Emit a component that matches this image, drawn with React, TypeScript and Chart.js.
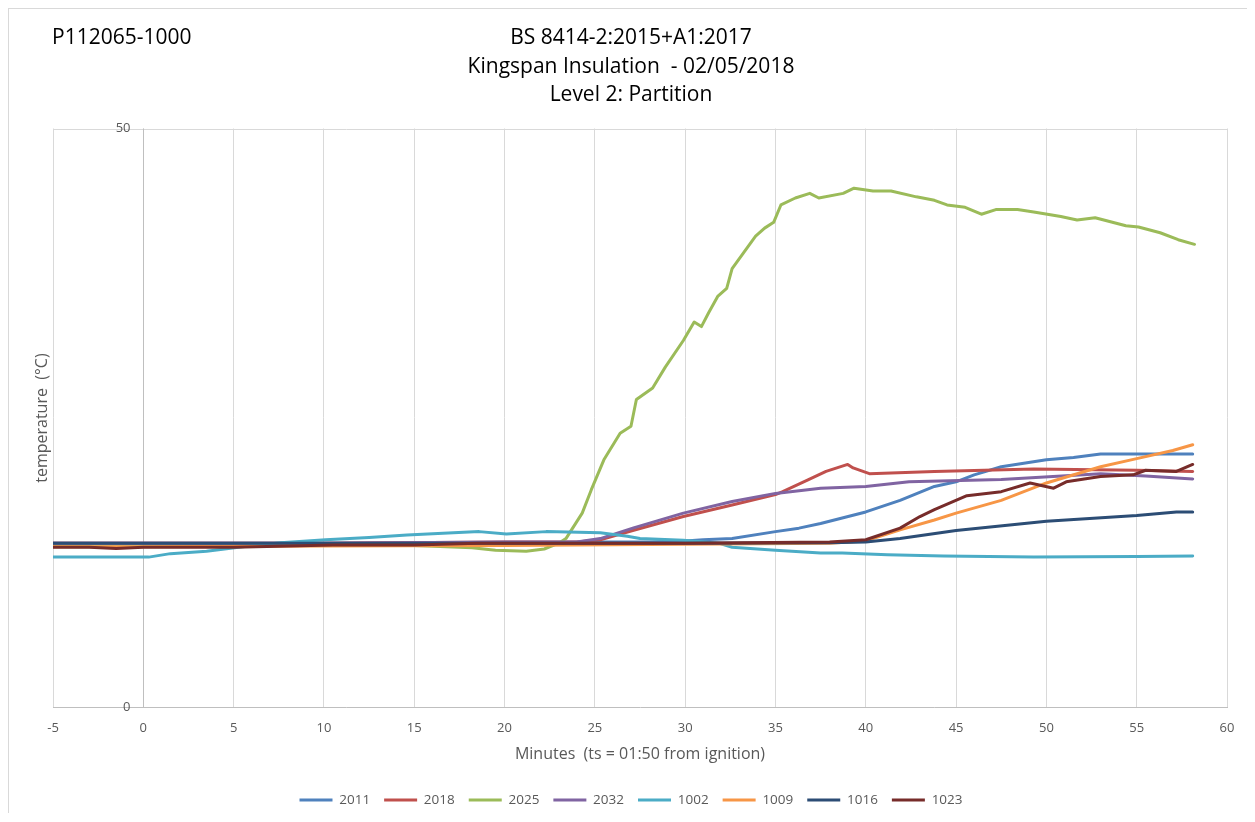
import React, { useEffect, useRef } from 'react';
import { Chart, registerables } from 'chart.js';

Chart.register(...registerables);

const FONT = '"Open Sans", "Noto Sans", sans-serif';

const seriesNames = ['2011', '2018', '2025', '2032', '1002', '1009', '1016', '1023'];
const seriesColors = ['#4F81BD', '#C0504D', '#9BBB59', '#8064A2', '#4BACC6', '#F79646', '#2C4D75', '#772C2A'];

const t2011 = [-5, 0, 5, 10, 15, 20, 25, 28, 30, 31, 32.6, 35, 36.3, 37.5, 40, 41.9, 43.8, 45, 46, 47.5, 50, 51.5, 53, 55, 58.1];
const v2011 = [14.2, 14.2, 14.2, 14.2, 14.2, 14.2, 14.3, 14.3, 14.4, 14.5, 14.6, 15.2, 15.5, 15.9, 16.9, 17.9, 19.1, 19.5, 20.1, 20.8, 21.4, 21.6, 21.9, 21.9, 21.9];

const t2018 = [-5, 0, 10, 20, 24, 25.3, 27.1, 29.9, 32.6, 35, 35.4, 36.8, 37.8, 39.0, 39.3, 40.2, 43.8, 49.3, 55, 58.1];
const v2018 = [14.2, 14.2, 14.2, 14.3, 14.3, 14.5, 15.3, 16.5, 17.5, 18.4, 18.65, 19.66, 20.4, 21.0, 20.7, 20.2, 20.4, 20.6, 20.5, 20.4];

const t2025 = [-5, 0, 5, 10, 15, 18.2, 19.5, 21.2, 22.2, 23.0, 23.4, 24.3, 24.8, 25.5, 26.4, 27.0, 27.3, 28.2, 28.9, 29.9, 30.5, 30.9, 31.3, 31.8, 32.3, 32.6, 33.2, 33.9, 34.4, 34.9, 35.3, 36.1, 36.9, 37.4, 38.75, 39.35, 40.4, 41.4, 42.8, 43.8, 44.5, 45.5, 46.4, 47.2, 48.4, 49.3, 50.8, 51.7, 52.7, 54.4, 55.1, 56.3, 57.3, 58.2];
const v2025 = [14.1, 14.1, 14.1, 14.0, 14.0, 13.8, 13.6, 13.5, 13.7, 14.2, 14.6, 16.8, 18.8, 21.4, 23.7, 24.3, 26.6, 27.6, 29.4, 31.7, 33.3, 32.9, 34.1, 35.5, 36.2, 37.9, 39.2, 40.7, 41.4, 41.9, 43.4, 44.0, 44.4, 44.0, 44.4, 44.85, 44.6, 44.6, 44.1, 43.8, 43.4, 43.2, 42.6, 43.0, 43.0, 42.8, 42.4, 42.1, 42.3, 41.6, 41.5, 41.0, 40.4, 40.0];

const t2032 = [-5, 10, 20, 24, 25.3, 27.1, 29.9, 32.6, 35, 37.5, 40, 42.4, 47.5, 53, 55.5, 58.1];
const v2032 = [14.2, 14.2, 14.3, 14.3, 14.6, 15.5, 16.8, 17.8, 18.5, 18.95, 19.1, 19.5, 19.7, 20.2, 20.0, 19.75];

const t1002 = [-5, 0.3, 1.5, 2.5, 3.5, 5.5, 7.6, 10.1, 12.5, 14.6, 18.6, 20.1, 22.3, 25.3, 26.8, 27.5, 29.9, 31.9, 32.6, 35, 37.5, 38.7, 41.2, 44.3, 49.3, 55, 58.1];
const v1002 = [13.0, 13.0, 13.3, 13.4, 13.5, 13.9, 14.25, 14.5, 14.7, 14.9, 15.2, 15.0, 15.2, 15.1, 14.8, 14.6, 14.45, 14.2, 13.85, 13.6, 13.35, 13.35, 13.2, 13.1, 13.0, 13.05, 13.1];

const t1009 = [-5, 0, 10, 20, 30, 38, 40, 41.9, 43.8, 45, 47.5, 50, 53, 55, 57, 58.1];
const v1009 = [13.9, 13.9, 13.95, 14.0, 14.1, 14.2, 14.4, 15.35, 16.2, 16.8, 17.9, 19.4, 20.8, 21.5, 22.2, 22.7];

const t1016 = [-5, 0, 20, 30, 38, 40, 41.9, 45, 50, 55, 57.2, 58.1];
const v1016 = [14.2, 14.2, 14.2, 14.2, 14.25, 14.3, 14.6, 15.3, 16.1, 16.6, 16.9, 16.9];

const t1023 = [-5, -3, -1.5, 0, 5, 10.5, 15, 18.5, 25, 30, 38, 40, 41.9, 43.0, 43.8, 45.6, 47.5, 49.1, 50.4, 51.1, 53, 54.8, 55.5, 57.2, 58.1];
const v1023 = [13.85, 13.85, 13.75, 13.85, 13.85, 14.05, 14.05, 14.2, 14.2, 14.2, 14.3, 14.5, 15.5, 16.5, 17.1, 18.3, 18.65, 19.4, 18.95, 19.5, 19.95, 20.1, 20.5, 20.4, 21.0];

const seriesTimes = [t2011, t2018, t2025, t2032, t1002, t1009, t1016, t1023];
const seriesValues = [v2011, v2018, v2025, v2032, v1002, v1009, v1016, v1023];

const xMin = -5;
const xMax = 60;
const xStep = 5;
const yMin = 0;
const yMax = 50;
const yTickLabels = [0, 50];

const projectId = 'P112065-1000';
const titleLines = ['BS 8414-2:2015+A1:2017', 'Kingspan Insulation  - 02/05/2018', 'Level 2: Partition'];
const xTitle = 'Minutes  (ts = 01:50 from ignition)';
const yTitle = 'temperature  (°C)';

const decorPlugin = {
  id: 'decor',
  beforeDatasetsDraw(chart: any) {
    const { ctx, chartArea: a, scales } = chart;
    const x = scales.x;
    const y = scales.y;
    ctx.save();
    ctx.strokeStyle = '#d9d9d9';
    ctx.lineWidth = 1;
    ctx.beginPath();
    ctx.moveTo(a.left, Math.round(a.top) + 0.5);
    ctx.lineTo(a.right, Math.round(a.top) + 0.5);
    ctx.stroke();
    const x0 = Math.round(x.getPixelForValue(0)) + 0.5;
    ctx.strokeStyle = '#bfbfbf';
    ctx.beginPath();
    ctx.moveTo(x0, a.top);
    ctx.lineTo(x0, a.bottom);
    ctx.stroke();
    ctx.fillStyle = '#595959';
    ctx.font = `13px ${FONT}`;
    ctx.textAlign = 'right';
    ctx.textBaseline = 'middle';
    yTickLabels.forEach((v) => ctx.fillText(String(v), x0 - 13, y.getPixelForValue(v)));
    ctx.restore();
  },
  afterDraw(chart: any) {
    const { ctx } = chart;
    ctx.save();
    ctx.fillStyle = '#000000';
    ctx.font = `21px ${FONT}`;
    ctx.textBaseline = 'middle';
    const ys = [29.5, 58.5, 86.5];
    ctx.textAlign = 'left';
    ctx.fillText(projectId, 43, ys[0]);
    ctx.textAlign = 'center';
    const cx = chart.width / 2;
    titleLines.forEach((t, i) => ctx.fillText(t, cx, ys[i]));
    ctx.restore();
  },
};

export default function App() {
  const ref = useRef<HTMLCanvasElement | null>(null);

  useEffect(() => {
    if (!ref.current) return;
    const datasets = seriesNames.map((name, i) => ({
      label: name,
      data: seriesTimes[i].map((t, j) => ({ x: t, y: seriesValues[i][j] })),
      borderColor: seriesColors[i],
      backgroundColor: seriesColors[i],
      borderWidth: 3,
      pointRadius: 0,
      tension: 0,
      borderJoinStyle: 'round' as const,
      borderCapStyle: 'round' as const,
      order: -i,
      yAxisID: 'y',
    }));

    const chart = new Chart(ref.current, {
      type: 'line',
      data: { datasets },
      options: {
        animation: false,
        responsive: false,
        maintainAspectRatio: false,
        layout: { padding: { top: 119.5, left: 0, right: 0, bottom: 4.25 } },
        font: { family: FONT },
        scales: {
          x: {
            type: 'linear',
            min: xMin,
            max: xMax,
            ticks: {
              stepSize: xStep,
              color: '#595959',
              font: { family: FONT, size: 13 },
              padding: 13,
              autoSkip: false,
              maxRotation: 0,
            },
            grid: { color: '#d9d9d9', drawTicks: false, lineWidth: 1 },
            border: { display: true, color: '#bfbfbf', width: 1 },
            title: {
              display: true,
              text: xTitle,
              color: '#595959',
              font: { family: FONT, size: 16 },
              padding: { top: -4.9, bottom: 15.65 },
            },
          },
          y: {
            type: 'linear',
            position: 'left',
            min: yMin,
            max: yMax,
            ticks: { display: false },
            grid: { display: false },
            border: { display: false },
            title: {
              display: true,
              text: yTitle,
              color: '#595959',
              font: { family: FONT, size: 16 },
              padding: { top: 24, bottom: 0 },
            },
            afterFit: (s: any) => {
              s.width = 44;
            },
          },
          y2: {
            type: 'linear',
            position: 'right',
            min: yMin,
            max: yMax,
            ticks: { display: false },
            grid: { display: false },
            border: { display: false },
            afterFit: (s: any) => {
              s.width = 26;
            },
          },
        },
        plugins: {
          title: { display: false },
          tooltip: { enabled: false },
          legend: {
            display: true,
            position: 'bottom',
            labels: {
              boxWidth: 33,
              boxHeight: 3,
              padding: 14,
              color: '#595959',
              font: { family: FONT, size: 13.5 },
              sort: (a: any, b: any) => a.datasetIndex - b.datasetIndex,
              generateLabels: (c: any) =>
                Chart.defaults.plugins.legend.labels.generateLabels(c).map((item: any) => ({
                  ...item,
                  lineWidth: 0,
                  fillStyle: item.strokeStyle,
                })),
            },
          },
        },
      },
      plugins: [decorPlugin],
    });
    return () => chart.destroy();
  }, []);

  return (
    <div
      style={{
        width: 1244,
        height: 804,
        border: '1px solid #d9d9d9',
        borderBottom: 'none',
        overflow: 'hidden',
        background: '#ffffff',
      }}
    >
      <canvas ref={ref} width={1244} height={812} style={{ display: 'block', width: 1244, height: 812 }} />
    </div>
  );
}
